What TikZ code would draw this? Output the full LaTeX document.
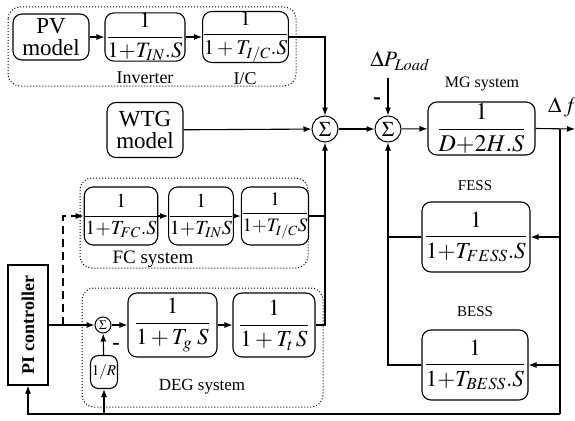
\documentclass[tikz,border=0pt]{standalone}
\usepackage{mathptmx}
\usepackage[no-math]{fontspec}
\setmainfont{Liberation Serif}
\usetikzlibrary{arrows.meta}

\newcommand*{\fsz}[1]{\fontsize{#1}{#1}\selectfont}

\tikzset{
    blk/.style={draw, line width=1.1pt, rounded corners=9pt, inner sep=0pt, align=center},
    sumnode/.style={draw, circle, line width=1pt, inner sep=0pt, minimum size=26pt},
    grp/.style={draw, line width=1pt, dotted, rounded corners=12pt},
    lbl/.style={inner sep=0pt},
    sig/.style={line width=1.1pt, -{Latex[length=8pt,width=6pt]}},
    wire/.style={line width=1.1pt},
}

\begin{document}
\begin{tikzpicture}[x=1pt, y=-1pt]
    \useasboundingbox (0,0) rectangle (575,420);

%   dotted groups
    \draw [grp] (8,7) rectangle (296,86);
    \draw [grp] (80,178) rectangle (308,268);
    \draw [grp] (82,288) rectangle (323,407);

%   PV row
    \node [blk, minimum width=76pt, minimum height=46pt, font=\fontsize{23}{22}\selectfont] (pv) at (51,37) {PV\\model};
    \node [blk, minimum width=80pt, minimum height=46pt, font=\fsz{22}] (inv) at (145,37) {$\displaystyle\frac{1}{1{+}T_{IN}.S}$};
    \node [blk, minimum width=85pt, minimum height=46pt, font=\fsz{21}] (ic) at (245.5,37) {$\displaystyle\frac{1}{1+T_{I/C}.S}$};
    \node [lbl, font=\fsz{18}] (invlbl) at (145,78) {Inverter};
    \node [lbl, font=\fsz{18}] (iclbl) at (245,79) {I/C};

%   WTG
    \node [blk, minimum width=76pt, minimum height=55pt, font=\fontsize{23}{22}\selectfont] (wtg) at (145,130) {WTG\\model};

%   sums and MG
    \node [sumnode, font=\fsz{21}] (s1) at (325,129) {$\Sigma$};
    \node [sumnode, font=\fsz{21}] (s2) at (388,129) {$\Sigma$};
    \node [blk, minimum width=107pt, minimum height=53pt, font=\fsz{24}] (mg) at (481.5,128.5) {$\displaystyle\frac{1}{D{+}2H.S}$};
    \node [lbl, font=\fsz{16}] (mglbl) at (482,84) {MG system};
    \node [lbl, font=\fsz{22}] (dpload) at (400,61) {$\Delta P_{Load}$};
    \node [lbl, font=\bfseries\fsz{24}] (m1) at (377,101) {-};
    \node [lbl, font=\fsz{22}, anchor=west] (dflbl) at (548,107) {$\Delta\, f$};
    \coordinate (dplin) at (388,78);
    \coordinate (dfout) at (575,129);
    \coordinate (fbtop) at (560,129);
    \coordinate (fbbot) at (560,414);

%   FC system
    \node [blk, minimum width=72pt, minimum height=58pt, font=\fsz{20}] (fc1) at (121,216) {$\displaystyle\frac{1}{1{+}T_{FC}.S}$};
    \node [blk, minimum width=62pt, minimum height=58pt, font=\fsz{20}] (fc2) at (201,216) {$\displaystyle\frac{1}{1{+}T_{IN}S}$};
    \node [blk, minimum width=60pt, minimum height=58pt, font=\fsz{19}] (fc3) at (275,216) {$\displaystyle\frac{1}{1{+}T_{I/C}S}$};
    \node [lbl, font=\fsz{19}] (fclbl) at (153,259) {FC system};

%   DEG system
    \node [draw, line width=1.1pt, minimum width=40pt, minimum height=120pt, inner sep=0pt, font=\bfseries\fsz{18}] (pi) at (28,325) {\rotatebox{90}{PI controller}};
    \node [sumnode, minimum size=16pt, font=\fsz{13}] (s3) at (103,325) {$\Sigma$};
    \node [blk, minimum width=89pt, minimum height=64pt, font=\fsz{23}] (gg) at (172.5,325) {$\displaystyle\frac{1}{1+T_{g}\;S}$};
    \node [blk, minimum width=82pt, minimum height=64pt, font=\fsz{23}] (tt) at (274,325) {$\displaystyle\frac{1}{1+T_{t}\,S}$};
    \node [blk, rounded corners=8pt, minimum width=27pt, minimum height=33pt, font=\fsz{15}] (rinv) at (104,372) {$1/R$};
    \node [lbl, font=\bfseries\fsz{22}] (m2) at (116,346) {-};
    \node [lbl, font=\fsz{17}] (deglbl) at (202,387) {DEG system};
    \coordinate (br) at (63,325);

%   FESS and BESS
    \node [blk, minimum width=108pt, minimum height=70pt, font=\fsz{23}] (fess) at (476,237) {$\displaystyle\frac{1}{1{+}T_{FESS}.S}$};
    \node [blk, minimum width=106pt, minimum height=70pt, font=\fsz{23}] (bess) at (475,365) {$\displaystyle\frac{1}{1{+}T_{BESS}.S}$};
    \node [lbl, font=\fsz{15}] (fesslbl) at (475,186) {FESS};
    \node [lbl, font=\fsz{15}] (besslbl) at (475,312) {BESS};

%   connectors
    \draw [sig] (pv) -- (inv);
    \draw [sig] (inv) -- (ic);
    \draw [sig] (ic.east) -| (s1.north);
    \draw [sig] (wtg) -- (s1);
    \draw [sig] (s1) -- (s2);
    \draw [sig] (dplin) -- (s2.north);
    \draw [sig] (s2) -- (mg);
    \draw [sig] (mg.east) -- (dfout);
    \draw [wire] (fbtop) -- (fbbot);
    \draw [sig] (fbbot) -| (pi.south);
    \draw [sig] (fbbot -| rinv) -- (rinv.south);
    \draw [sig] (fess.east -| fbtop) -- (fess.east);
    \draw [sig] (bess.east -| fbtop) -- (bess.east);
    \draw [wire] (fess.west) -- (fess.west -| s2);
    \draw [sig] (bess.west) -| (s2.south);

    \draw [sig] (fc1) -- (fc2);
    \draw [sig] (fc2) -- (fc3);
    \draw [wire] (fc3.east) -- (fc3.east -| s1);
    \draw [sig] (tt.east) -| (s1.south);

    \draw [sig] (pi.east) -- (s3.west);
    \draw [sig, dash pattern=on 8pt off 5pt] (br) |- (fc1.west);
    \draw [sig] (s3) -- (gg);
    \draw [sig] (gg) -- (tt);
    \draw [sig] (rinv) -- (s3);

\end{tikzpicture}
\end{document}
